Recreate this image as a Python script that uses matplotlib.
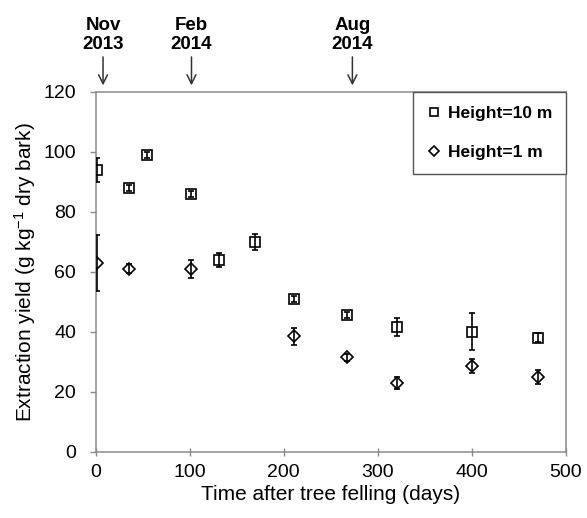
import numpy as np
import matplotlib
matplotlib.use('Agg')
import matplotlib.pyplot as plt
from matplotlib.lines import Line2D

plt.rcParams['font.family'] = ['Liberation Sans', 'DejaVu Sans']
plt.rcParams['mathtext.fontset'] = 'custom'
plt.rcParams['mathtext.rm'] = 'Liberation Sans'
plt.rcParams['mathtext.it'] = 'Liberation Sans'

# data
days_10 = [2, 36, 55, 102, 131, 169, 211, 267, 320, 400, 470]
yield_10 = [94, 88, 99, 86, 64, 70, 51, 45.5, 41.5, 40, 38]
err_10 = [4, 1, 1, 1, 2.4, 2.7, 1, 1, 3, 6.2, 1.5]

days_1 = [2, 36, 102, 211, 267, 320, 400, 470]
yield_1 = [63, 61, 61, 38.5, 31.5, 23, 28.5, 25]
err_1 = [9.3, 1.5, 3, 2.8, 1.2, 2, 2.3, 2.4]

event_days = [8, 102, 273]
event_labels = ['Nov\n2013', 'Feb\n2014', 'Aug\n2014']

fig = plt.figure(figsize=(5.87, 5.18), dpi=100)
ax = fig.add_axes([0.1627, 0.128, 0.8015, 0.6944])

spine_col = '#8a8a8a'

ax.errorbar(days_10, yield_10, yerr=err_10, fmt='s', ms=6.5, mfc='none',
            mec='black', mew=1.2, ecolor='black', elinewidth=1.2,
            capsize=2.5, capthick=1.2, zorder=3)
ax.errorbar(days_1, yield_1, yerr=err_1, fmt='D', ms=6.5, mfc='none',
            mec='black', mew=1.2, ecolor='black', elinewidth=1.2,
            capsize=2.5, capthick=1.2, zorder=3)

ax.set_xlim(0, 500)
ax.set_ylim(0, 120)
ax.set_xticks(np.arange(0, 501, 100))
ax.set_yticks(np.arange(0, 121, 20))

for s in ax.spines.values():
    s.set_color(spine_col)
    s.set_linewidth(1.1)

ax.tick_params(axis='x', direction='inout', length=6, width=1, color=spine_col,
               labelsize=14, pad=6)
ax.tick_params(axis='y', direction='out', length=4, width=1, color=spine_col,
               labelsize=14, pad=10)

ax.set_xlabel('Time after tree felling (days)', fontsize=15, labelpad=3)
ax.set_ylabel(r'Extraction yield (g kg$^{-1}$ dry bark)', fontsize=15, labelpad=4)

# event arrows above the plot
for d, lab in zip(event_days, event_labels):
    ax.annotate('', xy=(d, 122.2), xytext=(d, 131.7),
                arrowprops=dict(arrowstyle='->', lw=1.1, color='#333333',
                                mutation_scale=16, shrinkA=0, shrinkB=0),
                annotation_clip=False)
    ax.text(d, 133.0, lab, ha='center', va='bottom', fontsize=13.5,
            fontweight='bold', linespacing=1.12, clip_on=False)

handles = [
    Line2D([], [], ls='none', marker='s', ms=6, mfc='none', mec='black', mew=1.2),
    Line2D([], [], ls='none', marker='D', ms=5.5, mfc='none', mec='black', mew=1.2),
]
leg = ax.legend(handles, ['Height=10 m', 'Height=1 m'], loc='upper right',
                borderaxespad=0, fancybox=False, framealpha=1,
                edgecolor='#555555', handlelength=0.8, handletextpad=0.4,
                labelspacing=1.35, borderpad=0.8,
                prop={'size': 12.5, 'weight': 'bold'})
leg.get_frame().set_linewidth(1.0)

plt.savefig('out.png', dpi=100)
